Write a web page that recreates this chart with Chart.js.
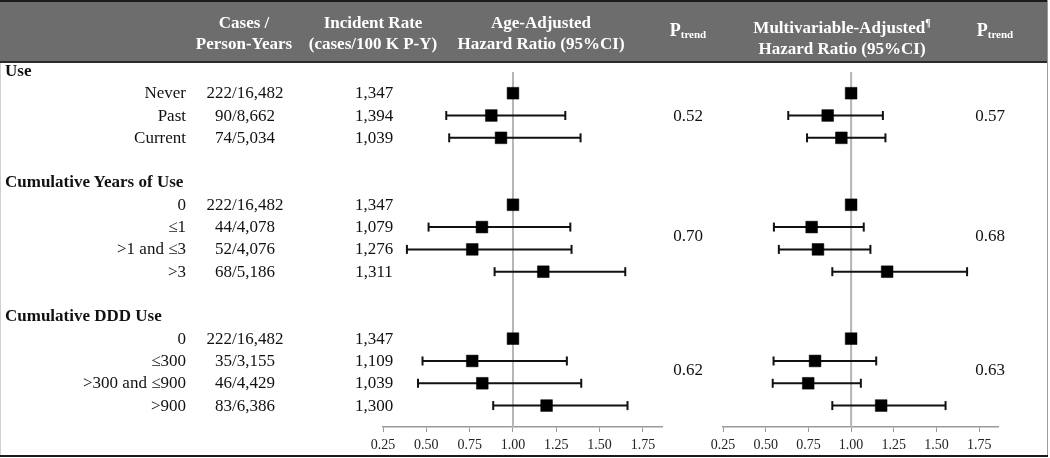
<!DOCTYPE html>
<html><head><meta charset="utf-8">
<script src="https://cdn.jsdelivr.net/npm/chart.js@4"></script>
<style>
html,body{margin:0;padding:0;background:#fff;}
#wrap{position:relative;width:1050px;height:458px;overflow:hidden;font-family:"Liberation Serif","Times New Roman",serif;color:#111;}
#hdr{position:absolute;left:0;top:0;width:1047px;height:59px;background:#6d6d6d;border-top:2px solid #1a1a1a;border-bottom:2px solid #2b2b2b;}
#lb{position:absolute;left:0;top:63px;width:1px;height:392px;background:#cfcfcf;}
#rb{position:absolute;left:1047px;top:0;width:1px;height:457px;background:#9a9a9a;}
#bb{position:absolute;left:0;top:455px;width:1048px;height:2px;background:#1a1a1a;}
.h{position:absolute;color:#fff;font-weight:bold;font-size:17px;line-height:21px;text-align:center;white-space:nowrap;transform:translateX(-50%);}
.h.p{font-size:18px;}
.h sub{font-size:11px;vertical-align:-2px;}
.h sup{font-size:10px;vertical-align:7px;}
.t{position:absolute;font-size:17px;line-height:20px;white-space:nowrap;}
.c{transform:translateX(-50%);}
.b{font-weight:bold;}
canvas{position:absolute;left:0;top:0;}
</style>
</head>
<body>
<div id="wrap">
  <div id="hdr"></div>
  <div id="lb"></div><div id="rb"></div><div id="bb"></div>
  <canvas id="c1" width="1050" height="458"></canvas>
  <canvas id="c2" width="1050" height="458"></canvas>
</div>
<script>
// ---- data ----
const groups = ['Use', 'Cumulative Years of Use', 'Cumulative DDD Use'];
const categories = ['Never', 'Past', 'Current', '0', '\u22641', '>1 and \u22643', '>3', '0', '\u2264300', '>300 and \u2264900', '>900'];
const groupOf = [0, 0, 0, 1, 1, 1, 1, 2, 2, 2, 2];
const casesPY = ['222/16,482', '90/8,662', '74/5,034', '222/16,482', '44/4,078', '52/4,076', '68/5,186', '222/16,482', '35/3,155', '46/4,429', '83/6,386'];
const incidentRate = ['1,347', '1,394', '1,039', '1,347', '1,079', '1,276', '1,311', '1,347', '1,109', '1,039', '1,300'];
const ageHR = [1.00, 0.875, 0.931, 1.00, 0.821, 0.765, 1.175, 1.00, 0.765, 0.823, 1.194];
const ageLo = [null, 0.615, 0.632, null, 0.513, 0.388, 0.894, null, 0.478, 0.452, 0.886];
const ageHi = [null, 1.302, 1.390, null, 1.331, 1.338, 1.648, null, 1.311, 1.394, 1.661];
const mvHR = [1.00, 0.863, 0.943, 1.00, 0.769, 0.806, 1.211, 1.00, 0.789, 0.749, 1.176];
const mvLo = [null, 0.632, 0.742, null, 0.548, 0.577, 0.890, null, 0.546, 0.541, 0.890];
const mvHi = [null, 1.186, 1.201, null, 1.074, 1.113, 1.679, null, 1.147, 1.057, 1.553];
const agePtrend = ['0.52', '0.70', '0.62'];
const mvPtrend = ['0.57', '0.68', '0.63'];
const xTicks = [0.25, 0.50, 0.75, 1.00, 1.25, 1.50, 1.75];
const headers = [
  ['Cases /', 'Person-Years'],
  ['Incident Rate', '(cases/100 K P-Y)'],
  ['Age-Adjusted', 'Hazard Ratio (95%CI)'],
  ['Multivariable-Adjusted', 'Hazard Ratio (95%CI)']
];

// ---- row layout (header row, items, blank row per group) ----
const groupRow = [];
const catRow = [];
let r = 0;
groups.forEach((g, gi) => {
  groupRow.push(r); r++;
  groupOf.forEach((go, i) => { if (go === gi) { catRow[i] = r; r++; } });
  r++;
});
const pRow = groups.map((g, gi) => {
  const rows = catRow.filter((x, i) => groupOf[i] === gi);
  return (rows[0] + rows[rows.length - 1]) / 2 - (rows.length % 2 === 0 ? 0.08 : 0);
});
const Y_MIN = 0.05, Y_MAX = 15.96;

function buildChart(id, hr, lo, hi, padL, padR) {
  const pts = hr.map((v, i) => ({ x: v, y: catRow[i] }));
  const ci = [];
  const caps = [];
  lo.forEach((l, i) => {
    if (l === null) return;
    ci.push({ x: l, y: catRow[i] }, { x: hi[i], y: catRow[i] }, { x: hi[i], y: null });
    caps.push({ x: l, y: catRow[i] }, { x: hi[i], y: catRow[i] });
  });
  return new Chart(document.getElementById(id), {
    type: 'scatter',
    data: {
      datasets: [
        { data: pts, pointStyle: 'rect', radius: 8.3, backgroundColor: '#000', borderColor: '#000', borderWidth: 0.5, order: 0 },
        { data: caps, pointStyle: 'line', rotation: 90, radius: 4.5, borderColor: '#111', borderWidth: 2, order: 1 },
        { data: ci, showLine: true, spanGaps: false, pointRadius: 0, borderColor: '#111', borderWidth: 2, order: 2 },
        { data: [{ x: 1, y: Y_MIN }, { x: 1, y: Y_MAX }], showLine: true, pointRadius: 0, borderColor: '#b5b5b5', borderWidth: 2, order: 3 }
      ]
    },
    options: {
      responsive: false,
      animation: false,
      devicePixelRatio: 1,
      layout: { padding: { left: padL, right: padR, top: 72, bottom: 0 } },
      plugins: { legend: { display: false }, tooltip: { enabled: false } },
      scales: {
        x: {
          type: 'linear', min: 0.25, max: 1.86,
          afterBuildTicks: s => { s.ticks = xTicks.map(v => ({ value: v })); },
          afterFit: s => { s.height = 31; },
          grid: { drawOnChartArea: false, drawTicks: true, tickLength: 5, color: '#9a9a9a', lineWidth: 1 },
          border: { display: true, color: '#9a9a9a', width: 1.5 },
          ticks: { padding: 5, color: '#222', font: { family: 'Liberation Serif', size: 14 }, maxRotation: 0, autoSkip: false, callback: v => Number(v).toFixed(2) }
        },
        y: { type: 'linear', reverse: true, min: Y_MIN, max: Y_MAX, display: false }
      }
    }
  });
}

const ch1 = buildChart('c1', ageHR, ageLo, ageHi, 383, 1050 - 662);
const ch2 = buildChart('c2', mvHR, mvLo, mvHi, 723, 1050 - 998);

// ---- table text ----
const wrap = document.getElementById('wrap');
function addText(txt, cls, style) {
  const d = document.createElement('div');
  d.className = cls;
  d.textContent = txt;
  Object.assign(d.style, style);
  wrap.appendChild(d);
  return d;
}
const rowY = row => ch1.scales.y.getPixelForValue(row) - 10 + 'px';
groups.forEach((g, gi) => addText(g, 't b', { left: '5px', top: rowY(groupRow[gi]) }));
categories.forEach((c, i) => {
  addText(c, 't', { left: '0px', width: '186px', textAlign: 'right', top: rowY(catRow[i]) });
  addText(casesPY[i], 't c', { left: '245px', top: rowY(catRow[i]) });
  addText(incidentRate[i], 't c', { left: '374px', top: rowY(catRow[i]) });
});
agePtrend.forEach((p, gi) => addText(p, 't c', { left: '688px', top: rowY(pRow[gi]) }));
mvPtrend.forEach((p, gi) => addText(p, 't c', { left: '990px', top: rowY(pRow[gi]) }));

// headers
const hdrX = [244, 373, 541, 842];
headers.forEach((h, i) => {
  const d = document.createElement('div');
  d.className = 'h';
  d.style.left = hdrX[i] + 'px';
  d.style.top = '12px';
  d.innerHTML = h[0] + (i === 3 ? '<sup>\u00b6</sup>' : '') + '<br>' + h[1];
  wrap.appendChild(d);
});
[688, 995].forEach(x => {
  const d = document.createElement('div');
  d.className = 'h p';
  d.style.left = x + 'px';
  d.style.top = '20px';
  d.innerHTML = 'P<sub>trend</sub>';
  wrap.appendChild(d);
});
</script>
</body></html>
